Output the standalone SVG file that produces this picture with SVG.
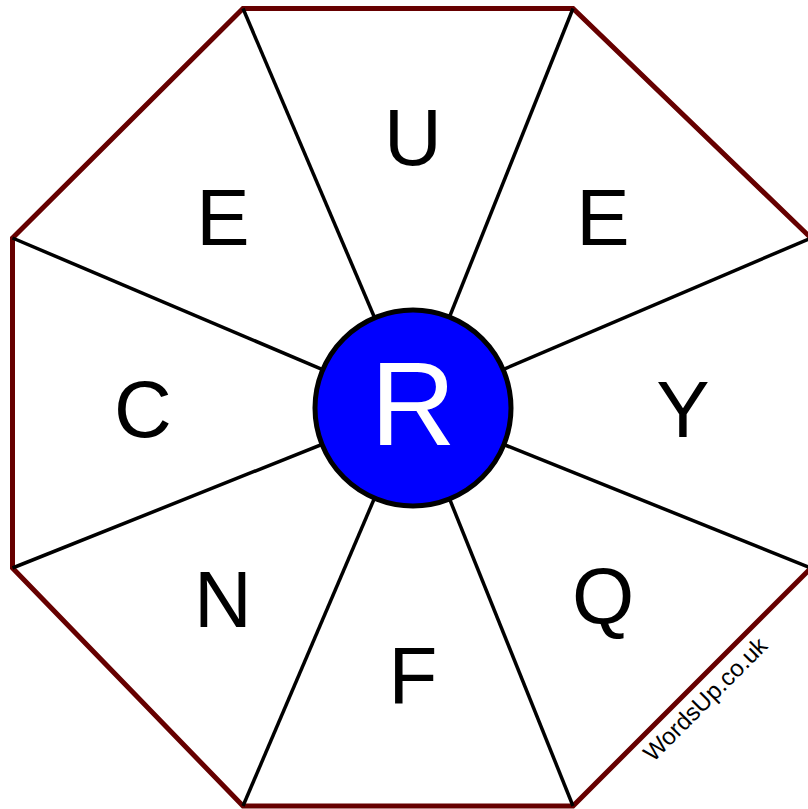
<svg xmlns="http://www.w3.org/2000/svg" width="808" height="809" viewBox="0 0 808 809">
<style>
.spoke{stroke:#000;stroke-width:3.5;fill:none}
.letter{font-family:"Liberation Sans",Arial,sans-serif;font-size:80px;text-anchor:middle;fill:#000}
</style>
<rect width="808" height="809" fill="#fff"/>
<g id="octagon">
<polygon points="243,8.5 573,8.5 811,238 811,568 573,806 243,806 12.5,568 12.5,238" fill="#fff" stroke="#660000" stroke-width="5" stroke-linejoin="miter"/>
</g>
<g id="connectors">
<line class="spoke" x1="413" y1="408" x2="243" y2="8.5"/>
<line class="spoke" x1="413" y1="408" x2="573" y2="8.5"/>
<line class="spoke" x1="413" y1="408" x2="811" y2="238"/>
<line class="spoke" x1="413" y1="408" x2="811" y2="568"/>
<line class="spoke" x1="413" y1="408" x2="573" y2="806"/>
<line class="spoke" x1="413" y1="408" x2="243" y2="806"/>
<line class="spoke" x1="413" y1="408" x2="12.5" y2="568"/>
<line class="spoke" x1="413" y1="408" x2="12.5" y2="238"/>
</g>
<g id="n-U"><text class="letter" x="413" y="165">U</text></g>
<g id="n-E1"><text class="letter" x="603" y="245">E</text></g>
<g id="n-Y"><text class="letter" x="683" y="437">Y</text></g>
<g id="n-Q"><text class="letter" x="603" y="624">Q</text></g>
<g id="n-F"><text class="letter" x="413" y="703">F</text></g>
<g id="n-N"><text class="letter" x="223" y="627">N</text></g>
<g id="n-C"><text class="letter" x="143" y="437">C</text></g>
<g id="n-E2"><text class="letter" x="223" y="245">E</text></g>
<g id="center">
<circle cx="413" cy="408" r="98" fill="#0000ff" stroke="#000" stroke-width="5"/>
<text x="413" y="445" font-family="Liberation Sans, Arial, sans-serif" font-size="118" text-anchor="middle" fill="#fff">R</text>
</g>
<g id="credit">
<text x="711" y="705" transform="rotate(-45 711 705)" font-family="Liberation Sans, Arial, sans-serif" font-size="24" text-anchor="middle" fill="#000">WordsUp.co.uk</text>
</g>
</svg>
